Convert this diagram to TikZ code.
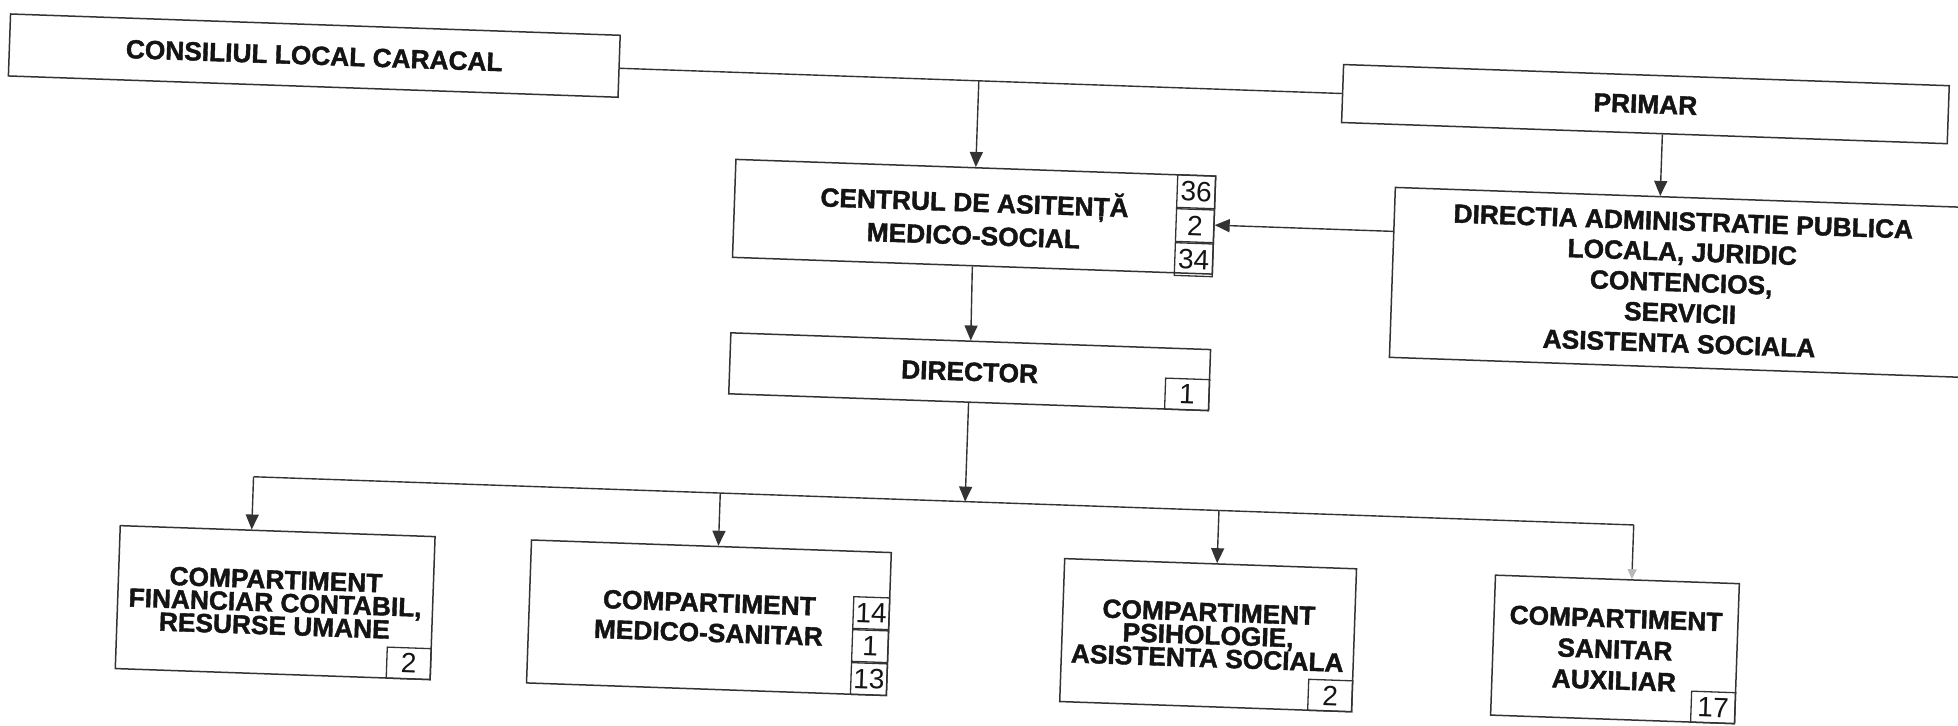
\documentclass[tikz,border=0pt]{standalone}
\usepackage{fontspec}
\setmainfont{Liberation Sans}[BoldFeatures={FakeBold=1.5}]
\usetikzlibrary{arrows.meta}
\definecolor{lc}{HTML}{333333}
\definecolor{tc}{HTML}{141414}
\begin{document}
\begin{tikzpicture}[x=1pt,y=-1pt,
  box/.style={draw=lc, line width=1.5pt, align=center, inner sep=0pt, text=tc},
  bf/.style={font=\bfseries\fontsize{26.3}{#1}\selectfont},
  num/.style={draw=lc, line width=1.3pt, inner sep=0pt, minimum width=44pt, minimum height=31pt, font=\fontsize{28}{28}\selectfont, text=tc},
  arr/.style={draw=lc, line width=1.4pt, -{Triangle[length=15pt,width=13pt]}},
  farr/.style={draw=lc, line width=1.4pt, -{Triangle[length=10pt,width=9pt,color=gray!55]}},
  ln/.style={draw=lc, line width=1.4pt}]
\useasboundingbox (0,0) rectangle (1958,725);
\fill[white] (0,0) rectangle (1958,725);
\begin{scope}[transform canvas={rotate around={-2:(979,362)}}]
% top row
\node[box, bf=30, minimum width=610pt, minimum height=62pt] (cons) at (304,79) {CONSILIUL LOCAL CARACAL};
\node[box, bf=30, minimum width=606pt, minimum height=58pt] (prim) at (1636,81) {PRIMAR};
% centre
\node[box, bf=33, minimum width=480pt, minimum height=98pt] (cen) at (969,217) {CENTRUL DE ASITENȚĂ\\MEDICO-SOCIAL};
\node[num, minimum width=38pt, minimum height=32.7pt, anchor=north east] (c36) at (cen.north east) {36};
\node[num, minimum width=38pt, minimum height=32.7pt, anchor=north] (c2) at (c36.south) {2};
\node[num, minimum width=38pt, minimum height=32.7pt, anchor=north] (c34) at (c2.south) {34};
\node[box, bf=30.5, minimum width=578pt, minimum height=170pt] (dir) at (1678,258) {DIRECTIA ADMINISTRATIE PUBLICA\\LOCALA, JURIDIC\\CONTENCIOS,\\SERVICII\\ASISTENTA SOCIALA};
\node[box, bf=30, minimum width=480pt, minimum height=61pt] (dirc) at (970,372) {DIRECTOR};
\node[num, anchor=south east] (d1) at (dirc.south east) {1};
% bottom row
\node[box, bf=23, minimum width=315pt, minimum height=143pt] (b1) at (284,627) {COMPARTIMENT\\FINANCIAR CONTABIL,\\RESURSE UMANE};
\node[num, anchor=south east] (b1n) at (b1.south east) {2};
\node[box, bf=30, minimum width=360pt, minimum height=143pt] (b2) at (718,627) {COMPARTIMENT\\MEDICO-SANITAR};
\node[num, minimum width=36pt, minimum height=31.7pt, anchor=south east] (b2c) at (b2.south east) {13};
\node[num, minimum width=36pt, minimum height=31.7pt, anchor=south] (b2b) at (b2c.north) {1};
\node[num, minimum width=36pt, minimum height=31.7pt, anchor=south] (b2a) at (b2b.north) {14};
\node[box, bf=23, minimum width=292pt, minimum height=143pt] (b3) at (1217.5,627) {COMPARTIMENT\\PSIHOLOGIE,\\ASISTENTA SOCIALA};
\node[num, anchor=south east] (b3n) at (b3.south east) {2};
\node[box, bf=31, minimum width=244pt, minimum height=140pt] (b4) at (1624.6,627) {COMPARTIMENT\\SANITAR\\AUXILIAR};
\node[num, anchor=south east] (b4n) at (b4.south east) {17};
% connectors
\coordinate (pd) at (1654,0);
\coordinate (busL) at (258,502);
\coordinate (busR) at (1639,502);
\coordinate (t2) at (725,502);
\coordinate (t3) at (1224,502);
\draw[ln] (prim.west) -- (prim.west -| cons.east);
\draw[arr] (cen.north |- prim.west) -- (cen.north);
\draw[arr] (prim.south -| pd) -- (dir.north -| pd);
\draw[arr] (dir.west |- cen.east) -- (cen.east);
\draw[arr] (cen.south) -- (dirc.north);
\draw[arr] (dirc.south) -- (dirc.south |- busL);
\draw[ln] (busR) -- (busL);
\draw[arr] (busL) -- (busL |- b1.north);
\draw[arr] (t2) -- (t2 |- b2.north);
\draw[arr] (t3) -- (t3 |- b3.north);
\draw[farr] (busR) -- (busR |- b4.north);
\end{scope}
\end{tikzpicture}
\end{document}
